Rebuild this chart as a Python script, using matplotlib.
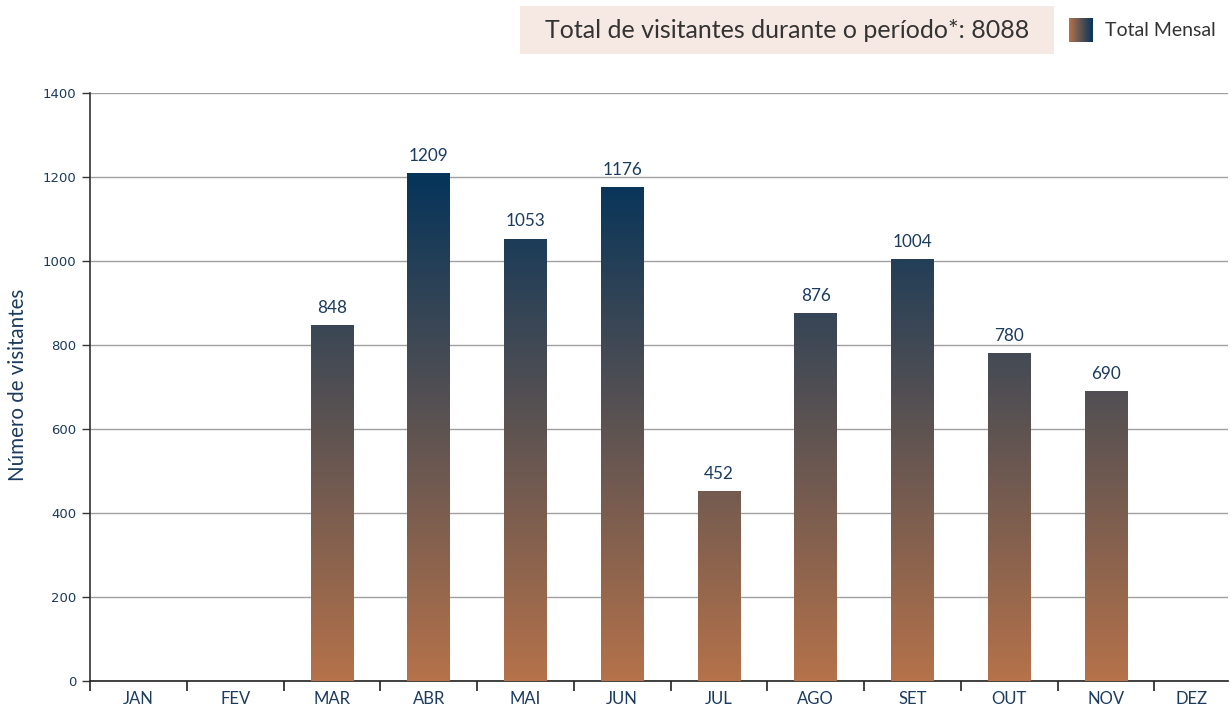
import numpy as np
import matplotlib
matplotlib.use("Agg")
import matplotlib.pyplot as plt
from matplotlib.colors import LinearSegmentedColormap
from matplotlib.patches import Rectangle

months = ["JAN", "FEV", "MAR", "ABR", "MAI", "JUN", "JUL", "AGO", "SET", "OUT", "NOV", "DEZ"]
visitors = [0, 0, 848, 1209, 1053, 1176, 452, 876, 1004, 780, 690, 0]
total_label = "Total de visitantes durante o período*: 8088"
legend_label = "Total Mensal"
ylabel = "Número de visitantes"
yticks = [0, 200, 400, 600, 800, 1000, 1200, 1400]

navy = "#1b3b5f"
cmap = LinearSegmentedColormap.from_list("g", ["#b5724a", "#05345a"])

fig = plt.figure(figsize=(12.31, 7.06), dpi=100)
ax = fig.add_axes([90/1231, 25/706, 1138/1231, 588/706])

xmax = 11.26
ax.set_xlim(-0.5, xmax)
ax.set_ylim(0, 1400)

vmax = max(visitors)
grad = np.linspace(0, 1, 256).reshape(-1, 1)
bw = 0.44
for i, v in enumerate(visitors):
    if v <= 0:
        continue
    im = ax.imshow(grad, cmap=cmap, origin="lower", aspect="auto",
                   extent=(i - bw/2, i + bw/2, 0, vmax), vmin=0, vmax=1, zorder=3)
    clip = Rectangle((i - bw/2, 0), bw, v, transform=ax.transData)
    im.set_clip_path(clip)
    ax.text(i, v + 22, str(v), ha="center", va="bottom", color=navy,
            fontsize=12.3, family="Lato", zorder=4)

ax.set_xlim(-0.5, xmax)
ax.set_ylim(0, 1400)

# grid
ax.set_yticks(yticks)
ax.yaxis.grid(True, color="#a0a0a0", linewidth=1.0)
ax.set_axisbelow(True)
ax.tick_params(axis="y", length=6, width=1, color="#333333", labelsize=9.5,
               labelcolor=navy, pad=4)
for lab in ax.get_yticklabels():
    lab.set_family("DejaVu Sans")

# x ticks: boundaries as tick marks, labels at centers
bounds = np.arange(-0.5, xmax, 1.0)
ax.set_xticks(bounds, minor=True)
centers = [i if i < len(months) - 1 else (i - 0.5 + xmax) / 2 for i in range(len(months))]
ax.set_xticks(centers)
ax.set_xticklabels(months, family="Lato", fontsize=12, color=navy)
ax.tick_params(axis="x", which="major", length=0, pad=7)
ax.tick_params(axis="x", which="minor", length=7, width=1.2, color="#222222")

for s in ["top", "right"]:
    ax.spines[s].set_visible(False)
ax.spines["left"].set_color("#333333")
ax.spines["left"].set_linewidth(1.2)
ax.spines["bottom"].set_color("#222222")
ax.spines["bottom"].set_linewidth(1.2)

fig.text(18/1231, 1 - 385/706, ylabel, rotation=90, ha="center", va="center",
         color=navy, fontsize=14.8, family="Lato")

# title box
fig.patches.append(Rectangle((520/1231, 1 - 54/706), 534/1231, 48/706,
                             transform=fig.transFigure, facecolor="#f6e9e3",
                             edgecolor="none"))
fig.text(787/1231, 1 - 31/706, total_label, ha="center", va="center",
         fontsize=18, color="#333333", family="Lato")

# legend gradient square
lax = fig.add_axes([1069/1231, 1 - 42/706, 24/1231, 24/706])
lax.imshow(np.linspace(0, 1, 64).reshape(1, -1), cmap=cmap, aspect="auto")
lax.axis("off")
fig.text(1105/1231, 1 - 30/706, legend_label, ha="left", va="center",
         fontsize=14, color="#333333", family="Lato")

fig.savefig("out.png", dpi=100)
